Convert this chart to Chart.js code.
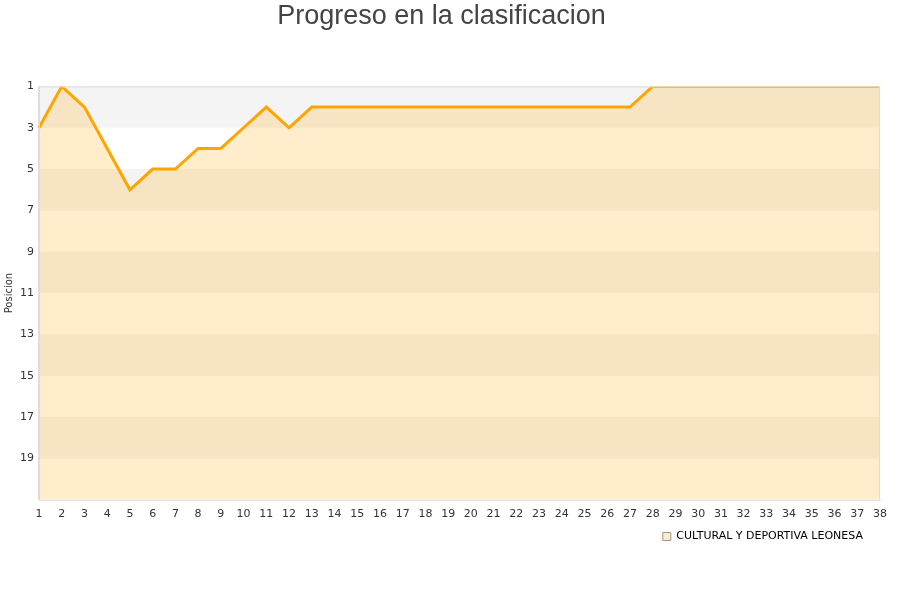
<!DOCTYPE html>
<html lang="es">
<head>
  <meta charset="UTF-8">
  <title>Progreso en la clasificacion</title>
  <script src="https://cdn.jsdelivr.net/npm/chart.js"></script>
  <style>
    html, body { margin: 0; padding: 0; background: #fff; }
    #wrap { width: 900px; height: 600px; }
  </style>
</head>
<body>
  <div id="wrap"><canvas id="chart" width="900" height="600"></canvas></div>
  <script>
    const jornadas = Array.from({ length: 38 }, (_, i) => String(i + 1));
    const posiciones = [3, 1, 2, 4, 6, 5, 5, 4, 4, 3, 2, 3, 2, 2, 2, 2, 2, 2, 2,
      2, 2, 2, 2, 2, 2, 2, 2, 1, 1, 1, 1, 1, 1, 1, 1, 1, 1, 1];
    const equipo = 'CULTURAL Y DEPORTIVA LEONESA';

    // franjas alternas de fondo (gris / blanco) cada 2 puestos
    const bandas = {
      id: 'bandas',
      beforeDraw(chart) {
        // leyenda algo separada del borde derecho
        if (chart.legend) chart.legend.right = chart.width - 35;
      },
      beforeDatasetsDraw(chart) {
        const { ctx, chartArea, scales } = chart;
        const y = scales.y;
        ctx.save();
        for (let v = 1, i = 0; v < 21; v += 2, i++) {
          const y1 = y.getPixelForValue(v);
          const y2 = y.getPixelForValue(v + 2);
          ctx.fillStyle = i % 2 === 0 ? '#f4f4f4' : '#ffffff';
          ctx.fillRect(chartArea.left, Math.min(y1, y2), chartArea.right - chartArea.left, Math.abs(y2 - y1));
        }
        ctx.restore();
      }
    };

    new Chart(document.getElementById('chart'), {
      type: 'line',
      data: {
        labels: jornadas,
        datasets: [{
          label: equipo,
          data: posiciones,
          borderColor: '#ffa500',
          borderWidth: 3,
          backgroundColor: 'rgba(255, 165, 0, 0.2)',
          fill: { value: 21 },
          pointRadius: 0,
          tension: 0
        }]
      },
      options: {
        responsive: false,
        animation: false,
        layout: { padding: { left: 3, right: 20, top: 0, bottom: 48 } },
        plugins: {
          title: {
            display: true,
            text: 'Progreso en la clasificacion',
            color: '#444',
            font: { family: 'Liberation Sans', size: 27, weight: 'normal' },
            padding: { top: 0, bottom: 54 }
          },
          legend: {
            position: 'bottom',
            align: 'end',
            labels: {
              boxWidth: 8,
              boxHeight: 8,
              padding: 2,
              color: '#111',
              font: { family: 'DejaVu Sans', size: 11 },
              generateLabels: () => [{
                text: equipo,
                fillStyle: '#fdecc9',
                strokeStyle: '#999',
                lineWidth: 1,
                datasetIndex: 0
              }]
            }
          },
          tooltip: { enabled: false }
        },
        scales: {
          x: {
            offset: false,
            grid: { display: false, drawTicks: false },
            border: { color: '#ddd' },
            ticks: {
              color: '#333',
              font: { family: 'DejaVu Sans', size: 11 },
              maxRotation: 0,
              autoSkip: false,
              padding: 8
            }
          },
          y: {
            reverse: true,
            min: 1,
            max: 21,
            grid: { color: 'rgba(0,0,0,0.06)', drawTicks: false },
            border: { color: '#ddd' },
            ticks: {
              stepSize: 2,
              color: '#333',
              padding: 5,
              font: { family: 'DejaVu Sans', size: 11 },
              callback: v => (v === 21 ? '' : v)
            },
            title: {
              display: true,
              text: 'Posicion',
              color: '#333',
              font: { family: 'DejaVu Sans', size: 10 },
              padding: 0
            }
          }
        }
      },
      plugins: [bandas, {
        id: 'marco',
        afterDraw(chart) {
          const { ctx, chartArea } = chart;
          ctx.save();
          ctx.strokeStyle = '#ddd';
          ctx.lineWidth = 1;
          ctx.strokeRect(chartArea.left + 0.5, chartArea.top + 0.5, chartArea.right - chartArea.left - 1, chartArea.bottom - chartArea.top);
          ctx.restore();
        }
      }]
    });
  </script>
</body>
</html>
